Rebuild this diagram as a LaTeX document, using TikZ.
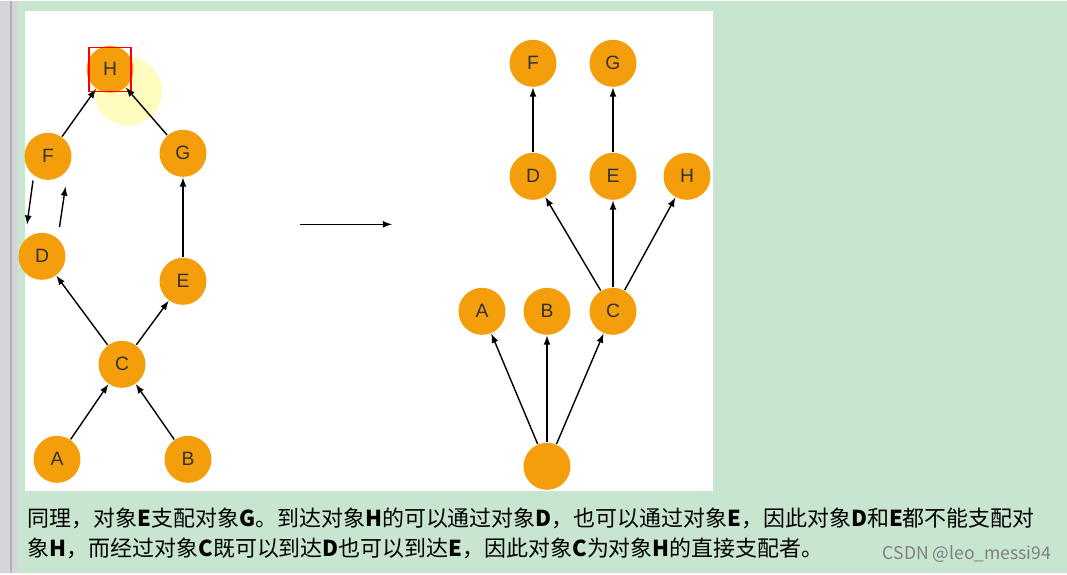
\documentclass[tikz,border=0pt]{standalone}
\usepackage{fontspec}
\newfontfamily\cjk{Noto Sans CJK SC}
\newfontfamily\arialfont{Liberation Sans}
\usetikzlibrary{arrows}
\definecolor{bggreen}{HTML}{C8E6CF}
\definecolor{dotorange}{HTML}{F59E0B}
\tikzset{dom node/.style={circle,fill=dotorange,minimum size=0.94cm,inner sep=0pt,
                          font=\arialfont\fontsize{11}{11}\selectfont,text=black!80}}
\begin{document}
\begin{tikzpicture}[x=0.02cm,y=-0.02cm,->,>=latex,thick]
  \fill[bggreen] (0,0) rectangle (1067,572);
  \fill[blue!10!gray!30] (0,0) rectangle (18,572);
  \draw[-,gray!60,line width=1.5pt] (11,0) -- (11,572);
  \fill[white] (25,10) rectangle (713,490);

  % left graph
  \fill[yellow!25] (128,90) circle (34);
  \node[dom node] (lH) at (110,68) {H};
  \draw[-,red,thick] (89,46) rectangle (131,90);
  \node[dom node] (lF) at (48,155) {F};
  \node[dom node] (lG) at (183,152) {G};
  \node[dom node] (lD) at (42,255) {D};
  \node[dom node] (lE) at (183,280) {E};
  \node[dom node] (lC) at (122,363) {C};
  \node[dom node] (lA) at (57,458) {A};
  \node[dom node] (lB) at (188,458) {B};

  \draw (lF) -- (lH);
  \draw (lG) -- (lH);
  \draw ([xshift=-0.3cm]lF.south) -- ([xshift=-0.3cm,yshift=0.15cm]lD.north);
  \draw ([xshift=0.35cm,yshift=0.1cm]lD.north) -- ([xshift=0.35cm,yshift=-0.12cm]lF.south);
  \draw (lE) -- (lG);
  \draw (lC) -- (lD);
  \draw (lC) -- (lE);
  \draw (lA) -- (lC);
  \draw (lB) -- (lC);

  % transform arrow
  \coordinate (arrowstart) at (300,223);
  \coordinate (arrowend) at (392,223);
  \draw (arrowstart) -- (arrowend);

  % dominator tree
  \node[dom node] (rF) at (533,62) {F};
  \node[dom node] (rG) at (613,62) {G};
  \node[dom node] (rD) at (533,175) {D};
  \node[dom node] (rE) at (613,175) {E};
  \node[dom node] (rH) at (687,175) {H};
  \node[dom node] (rA) at (482,310) {A};
  \node[dom node] (rB) at (547,310) {B};
  \node[dom node] (rC) at (613,310) {C};
  \node[dom node] (root) at (547,465) {};

  \draw (rD) -- (rF);
  \draw (rE) -- (rG);
  \draw (rC) -- (rD);
  \draw (rC) -- (rE);
  \draw (rC) -- (rH);
  \draw (root) -- (rA);
  \draw (root) -- (rB);
  \draw (root) -- (rC);

  % caption
  \node[anchor=west,inner sep=0pt,font=\cjk\fontsize{12.5}{12.5}\selectfont] (line1) at (27,517)
    {同理，对象\textbf{E}支配对象\textbf{G}。到达对象\textbf{H}的可以通过对象\textbf{D}，也可以通过对象\textbf{E}，因此对象\textbf{D}和\textbf{E}都不能支配对};
  \node[anchor=west,inner sep=0pt,font=\cjk\fontsize{12.5}{12.5}\selectfont] (line2) at (27,547)
    {象\textbf{H}，而经过对象\textbf{C}既可以到达\textbf{D}也可以到达\textbf{E}，因此对象\textbf{C}为对象\textbf{H}的直接支配者。};
  \node[anchor=east,inner sep=0pt,text=gray,font=\cjk\fontsize{10}{10}\selectfont] (mark) at (1052,553)
    {CSDN @leo\_messi94};
\end{tikzpicture}
\end{document}
